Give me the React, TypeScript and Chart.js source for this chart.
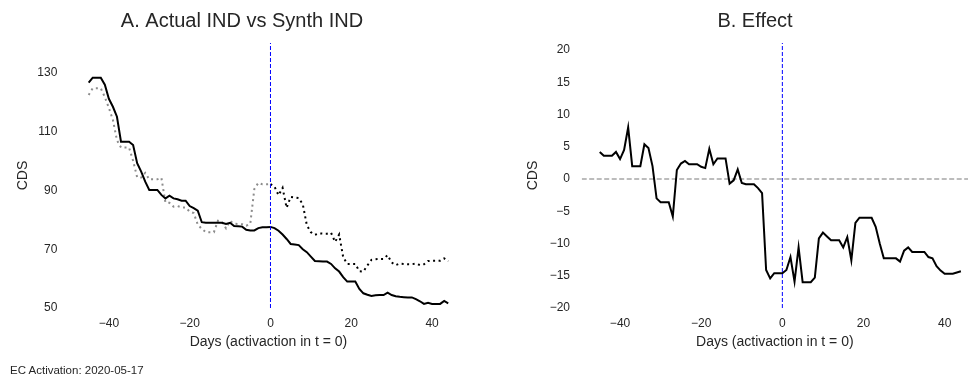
import React, { useEffect, useRef } from "react";
import { Chart, registerables } from "chart.js";

Chart.register(...registerables);

// ---------- data ----------
const DAYS = [
  -45, -44, -43, -42, -41, -40, -39, -38, -37, -36, -35, -34, -33, -32, -31, -30,
  -29, -28, -27, -26, -25, -24, -23, -22, -21, -20, -19, -18, -17, -16, -15, -14,
  -13, -12, -11, -10, -9, -8, -7, -6, -5, -4, -3, -2, -1, 0, 1, 2, 3, 4, 5, 6, 7,
  8, 9, 10, 11, 12, 13, 14, 15, 16, 17, 18, 19, 20, 21, 22, 23, 24, 25, 26, 27, 28,
  29, 30, 31, 32, 33, 34, 35, 36, 37, 38, 39, 40, 41, 42, 43, 44,
];

const ACTUAL_IND = [
  126.7, 128.4, 128.4, 128.4, 126.0, 121.2, 118.5, 115.1, 106.6, 106.6, 106.6, 105.5,
  99.3, 96.4, 93.0, 90.2, 90.2, 90.2, 88.5, 87.3, 88.2, 87.3, 87.0, 86.5, 86.5, 84.7,
  84.0, 83.1, 79.2, 79.0, 79.0, 79.0, 79.0, 79.0, 78.6, 79.0, 77.9, 77.8, 77.7, 76.6,
  76.4, 76.4, 77.2, 77.5, 77.5, 77.6, 77.2, 76.3, 75.0, 73.5, 71.8, 71.6, 71.4, 70.0,
  69.0, 67.5, 66.0, 65.9, 65.8, 65.8, 65.0, 63.5, 62.4, 60.5, 59.0, 59.0, 59.0, 56.5,
  55.0, 54.5, 54.1, 54.3, 54.4, 54.4, 55.2, 54.4, 54.0, 53.8, 53.7, 53.6, 53.6, 53.0,
  52.3, 51.4, 51.8, 51.4, 51.4, 51.4, 52.4, 51.6,
];

const SYNTH_IND = [
  122.5, 124.8, 124.8, 124.8, 121.8, 118.1, 114.0, 107.1, 104.6, 104.6, 104.6, 100.1,
  94.5, 94.4, 96.0, 93.8, 93.8, 93.8, 94.3, 85.9, 85.8, 84.5, 84.7, 84.2, 84.2, 82.8,
  82.3, 78.4, 76.9, 75.8, 75.8, 75.8, 79.7, 79.2, 77.1, 79.6, 78.7, 78.6, 78.5, 78.0,
  78.6, 90.5, 92.6, 92.1, 92.1, 92.2, 91.3, 88.4, 90.9, 84.1, 87.8, 87.6, 87.4, 85.3,
  78.2, 75.8, 74.9, 75.4, 75.3, 75.3, 75.6, 72.5, 75.0, 67.3, 65.0, 65.0, 65.0, 62.5,
  62.4, 64.5, 66.4, 66.6, 66.7, 66.7, 68.0, 65.5, 64.6, 65.1, 65.0, 64.9, 64.9, 65.1,
  64.6, 64.9, 66.0, 66.1, 66.1, 66.1, 66.9, 65.9,
];

const EFFECT = [
  4.2, 3.6, 3.6, 3.6, 4.2, 3.1, 4.5, 8.0, 2.0, 2.0, 2.0, 5.4, 4.8, 2.0, -3.0, -3.6,
  -3.6, -3.6, -5.8, 1.4, 2.4, 2.8, 2.3, 2.3, 2.3, 1.9, 1.7, 4.7, 2.3, 3.2, 3.2, 3.2,
  -0.7, -0.2, 1.5, -0.6, -0.8, -0.8, -0.8, -1.4, -2.2, -14.1, -15.4, -14.6, -14.6,
  -14.6, -14.1, -12.1, -15.9, -10.6, -16.0, -16.0, -16.0, -15.3, -9.2, -8.3, -8.9,
  -9.5, -9.5, -9.5, -10.6, -9.0, -12.6, -6.8, -6.0, -6.0, -6.0, -6.0, -7.4, -10.0,
  -12.3, -12.3, -12.3, -12.3, -12.8, -11.1, -10.6, -11.3, -11.3, -11.3, -11.3, -12.1,
  -12.3, -13.5, -14.2, -14.7, -14.7, -14.7, -14.5, -14.3,
];

const X_TICKS = [-40, -20, 0, 20, 40];
const A_Y_TICKS = [50, 70, 90, 110, 130];
const B_Y_TICKS = [-20, -15, -10, -5, 0, 5, 10, 15, 20];

const EVENT_DAY = 0;
const ZERO_EFFECT = 0;
const A_X_RANGE = [-49.45, 48.45];
const B_X_RANGE = [-49.45, 45.75];
const A_Y_RANGE = [50, 140.2];
const B_Y_RANGE = [-20, 21.1];

const TITLE_A = "A. Actual IND vs Synth IND";
const TITLE_B = "B. Effect";
const X_LABEL = "Days (activaction in t = 0)";
const Y_LABEL = "CDS";
const FOOTER = "EC Activation: 2020-05-17";

// ---------- styling ----------
const FONT = "'Liberation Sans', Arial, Helvetica, sans-serif";
const TEXT = "#262626";

const fmt = (v: number) => (v < 0 ? "\u2212" + Math.abs(v) : String(v));

const titlePlugin = {
  id: "panelTitle",
  afterDraw(chart: any, _args: any, opts: any) {
    const ctx = chart.ctx;
    ctx.save();
    ctx.font = `20px ${FONT}`;
    ctx.fillStyle = TEXT;
    ctx.textAlign = "center";
    ctx.textBaseline = "alphabetic";
    ctx.fillText(opts.text, opts.x, opts.y);
    ctx.restore();
  },
};

function makeScales(opts: {
  xRange: number[];
  yRange: number[];
  yTicks: number[];
  yWidth: number;
  yPad: number;
  yTitlePad: number;
}) {
  return {
    x: {
      type: "linear",
      min: opts.xRange[0],
      max: opts.xRange[1],
      grid: { display: false, drawTicks: false },
      border: { display: false },
      afterBuildTicks: (s: any) => {
        s.ticks = X_TICKS.map((v) => ({ value: v }));
      },
      afterFit: (s: any) => {
        s.height = 69;
      },
      ticks: {
        padding: 8.8,
        autoSkip: false,
        maxRotation: 0,
        color: TEXT,
        font: { family: FONT, size: 12 },
        callback: (v: any) => fmt(Number(v)),
      },
      title: {
        display: true,
        text: X_LABEL,
        color: TEXT,
        font: { family: FONT, size: 14 },
        padding: { top: 0, bottom: 26.9 },
      },
    },
    y: {
      type: "linear",
      min: opts.yRange[0],
      max: opts.yRange[1],
      grid: { display: false, drawTicks: false },
      border: { display: false },
      afterBuildTicks: (s: any) => {
        s.ticks = opts.yTicks.map((v) => ({ value: v }));
      },
      afterFit: (s: any) => {
        s.width = opts.yWidth;
      },
      ticks: {
        padding: opts.yPad,
        color: TEXT,
        font: { family: FONT, size: 12 },
        callback: (v: any) => fmt(Number(v)),
      },
      title: {
        display: true,
        text: Y_LABEL,
        color: TEXT,
        font: { family: FONT, size: 14 },
        padding: { top: opts.yTitlePad, bottom: 0 },
      },
    },
  };
}

const pts = (ys: number[]) => DAYS.map((d, i) => ({ x: d, y: ys[i] }));

export default function App() {
  const refA = useRef<HTMLCanvasElement | null>(null);
  const refB = useRef<HTMLCanvasElement | null>(null);

  useEffect(() => {
    const common = {
      responsive: false,
      animation: false,
      events: [],
      elements: { point: { radius: 0 }, line: { tension: 0 } },
    };

    const chartA = new Chart(refA.current as HTMLCanvasElement, {
      type: "line",
      plugins: [titlePlugin],
      data: {
        datasets: [
          {
            data: [
              { x: EVENT_DAY, y: A_Y_RANGE[0] },
              { x: EVENT_DAY, y: A_Y_RANGE[1] },
            ],
            borderColor: "#0000ff",
            borderWidth: 1,
            borderDash: [4, 2],
          },
          {
            data: pts(ACTUAL_IND),
            borderColor: "#000000",
            borderWidth: 2,
          },
          {
            data: pts(SYNTH_IND),
            borderColor: "#8c8c8c",
            borderWidth: 2,
            borderDash: [2, 3.5],
            borderCapStyle: "butt",
            segment: {
              borderColor: (c: any) => (c.p0.parsed.x >= EVENT_DAY ? "#000000" : "#8c8c8c"),
            },
          },
        ],
      } as any,
      options: {
        ...common,
        layout: { padding: { top: 43, right: 17.8, bottom: 0, left: 0 }, autoPadding: false },
        plugins: {
          legend: { display: false },
          tooltip: { enabled: false },
          panelTitle: { text: TITLE_A, x: 242, y: 26.5 },
        },
        scales: makeScales({
          xRange: A_X_RANGE,
          yRange: A_Y_RANGE,
          yTicks: A_Y_TICKS,
          yWidth: 70.7,
          yPad: 13.4,
          yTitlePad: 14.9,
        }),
      } as any,
    });

    const chartB = new Chart(refB.current as HTMLCanvasElement, {
      type: "line",
      plugins: [titlePlugin],
      data: {
        datasets: [
          {
            data: [
              { x: EVENT_DAY, y: B_Y_RANGE[0] },
              { x: EVENT_DAY, y: B_Y_RANGE[1] },
            ],
            borderColor: "#0000ff",
            borderWidth: 1,
            borderDash: [4, 2],
          },
          {
            data: pts(EFFECT),
            borderColor: "#000000",
            borderWidth: 2,
          },
          {
            data: [
              { x: B_X_RANGE[0], y: ZERO_EFFECT },
              { x: B_X_RANGE[1], y: ZERO_EFFECT },
            ],
            borderColor: "#a6a6a6",
            borderWidth: 1.5,
            borderDash: [5, 2.5],
          },
        ],
      } as any,
      options: {
        ...common,
        layout: { padding: { top: 43, right: 0, bottom: 0, left: 0 }, autoPadding: false },
        plugins: {
          legend: { display: false },
          tooltip: { enabled: false },
          panelTitle: { text: TITLE_B, x: 271, y: 26.5 },
        },
        scales: makeScales({
          xRange: B_X_RANGE,
          yRange: B_Y_RANGE,
          yTicks: B_Y_TICKS,
          yWidth: 97.7,
          yPad: 11.7,
          yTitlePad: 41.2,
        }),
      } as any,
    });

    return () => {
      chartA.destroy();
      chartB.destroy();
    };
  }, []);

  return (
    <div
      style={{
        position: "absolute",
        left: 0,
        top: 0,
        width: 968,
        height: 377,
        background: "#ffffff",
        overflow: "hidden",
      }}
    >
      <canvas
        ref={refA}
        width={484}
        height={377}
        style={{ position: "absolute", left: 0, top: 0, width: 484, height: 377 }}
      />
      <canvas
        ref={refB}
        width={484}
        height={377}
        style={{ position: "absolute", left: 484, top: 0, width: 484, height: 377 }}
      />
      <div
        style={{
          position: "absolute",
          left: 10,
          top: 363,
          fontFamily: FONT,
          fontSize: 11.5,
          lineHeight: "14px",
          color: TEXT,
          whiteSpace: "nowrap",
        }}
      >
        {FOOTER}
      </div>
    </div>
  );
}
